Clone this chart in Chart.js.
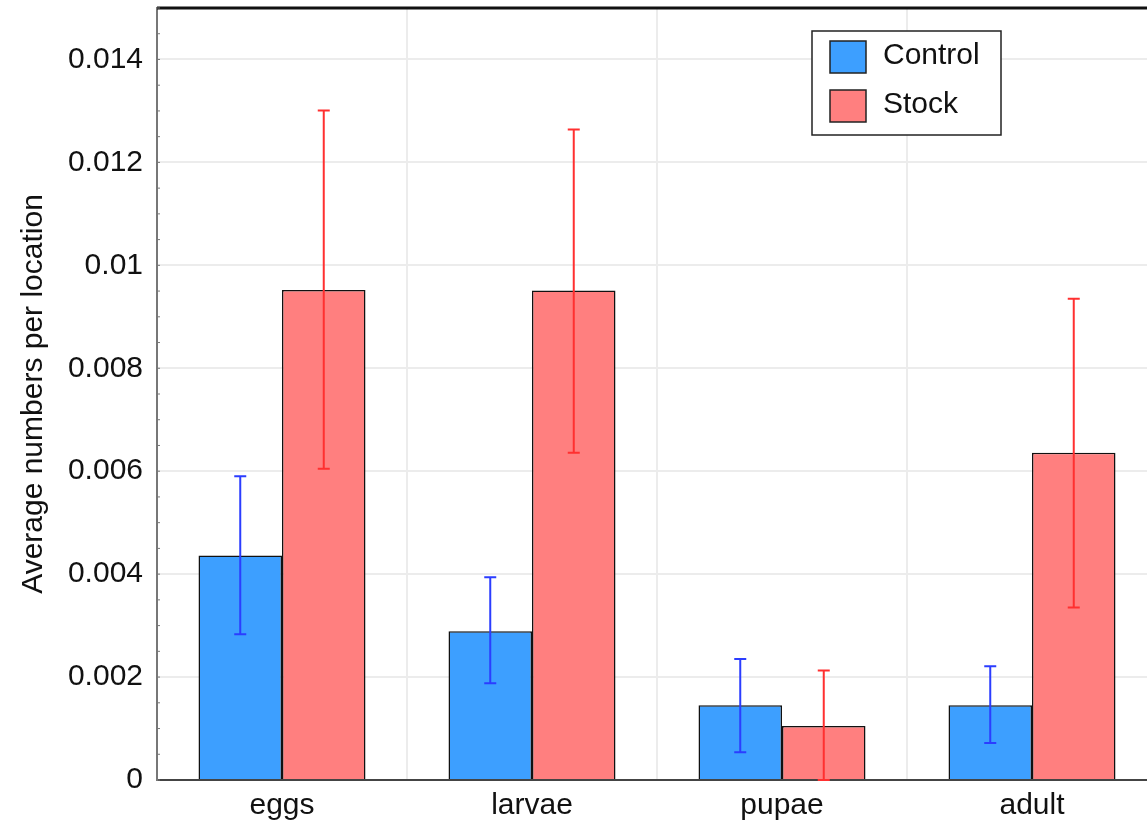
<!DOCTYPE html>
<html>
<head>
<meta charset="utf-8">
<script src="https://cdn.jsdelivr.net/npm/chart.js@4/dist/chart.umd.min.js"></script>
<style>
  html, body { margin: 0; padding: 0; background: #fff; overflow: hidden; width: 1147px; height: 828px; }
  #wrap { position: absolute; left: 0; top: 0; width: 1160px; height: 828px; }
</style>
</head>
<body>
<div id="wrap"><canvas id="c"></canvas></div>
<script>
const categories = ['eggs', 'larvae', 'pupae', 'adult'];
const seriesNames = ['Control', 'Stock'];
const controlValues = [0.00436, 0.00289, 0.00145, 0.00145];
const controlLow = [0.00283, 0.00188, 0.00054, 0.00072];
const controlHigh = [0.00590, 0.00394, 0.00235, 0.00221];
const stockValues = [0.00952, 0.00951, 0.00105, 0.00636];
const stockLow = [0.00605, 0.00636, 0.0, 0.00335];
const stockHigh = [0.01301, 0.01264, 0.00213, 0.00935];
const yTickValues = [0, 0.002, 0.004, 0.006, 0.008, 0.01, 0.012, 0.014];
const yTitle = 'Average numbers per location';

const FONT = '"Liberation Sans", Arial, sans-serif';
const errorColors = ['#2b3dff', '#ff3030'];
const errLow = [controlLow, stockLow];
const errHigh = [controlHigh, stockHigh];

const errorBars = {
  id: 'errorBars',
  afterDatasetsDraw(chart) {
    const ctx = chart.ctx;
    const y = chart.scales.y;
    chart.data.datasets.forEach((ds, di) => {
      const meta = chart.getDatasetMeta(di);
      meta.data.forEach((bar, i) => {
        const x = bar.x;
        const yl = y.getPixelForValue(errLow[di][i]);
        const yh = y.getPixelForValue(errHigh[di][i]);
        ctx.save();
        ctx.strokeStyle = errorColors[di];
        ctx.lineWidth = 2;
        ctx.beginPath();
        ctx.moveTo(x, yl); ctx.lineTo(x, yh);
        ctx.moveTo(x - 6, yl); ctx.lineTo(x + 6, yl);
        ctx.moveTo(x - 6, yh); ctx.lineTo(x + 6, yh);
        ctx.stroke();
        ctx.restore();
      });
    });
  }
};

const frame = {
  id: 'frame',
  afterDraw(chart) {
    const {ctx, chartArea: a} = chart;
    ctx.save();
    ctx.strokeStyle = '#111';
    ctx.lineWidth = 3;
    ctx.beginPath();
    ctx.moveTo(a.left, a.top); ctx.lineTo(a.right, a.top);
    ctx.stroke();
    ctx.strokeStyle = '#777';
    ctx.lineWidth = 1;
    const y = chart.scales.y;
    for (let k = 0; k <= 30; k++) {
      const py = y.getPixelForValue(k * 0.0005);
      ctx.beginPath(); ctx.moveTo(a.left, py); ctx.lineTo(a.left + 3, py); ctx.stroke();
    }
    const bx = 812, by = 31, bw = 189, bh = 104;
    ctx.fillStyle = '#fff';
    ctx.fillRect(bx, by, bw, bh);
    ctx.strokeStyle = '#222';
    ctx.lineWidth = 1.5;
    ctx.strokeRect(bx, by, bw, bh);
    chart.data.datasets.forEach((ds, i) => {
      const sy = 41 + i * 49;
      ctx.fillStyle = ds.backgroundColor;
      ctx.fillRect(830, sy, 36, 32);
      ctx.strokeStyle = '#222';
      ctx.lineWidth = 1.5;
      ctx.strokeRect(830, sy, 36, 32);
      ctx.fillStyle = '#111';
      ctx.font = '30px ' + FONT;
      ctx.textBaseline = 'middle';
      ctx.textAlign = 'left';
      ctx.fillText(ds.label, 883, sy + 15);
    });
    ctx.restore();
  }
};

new Chart(document.getElementById('c'), {
  type: 'bar',
  data: {
    labels: categories,
    datasets: [
      { label: seriesNames[0], data: controlValues, backgroundColor: '#3d9fff', borderColor: '#111', borderWidth: 1.5 },
      { label: seriesNames[1], data: stockValues, backgroundColor: '#ff7f7f', borderColor: '#111', borderWidth: 1.5 }
    ]
  },
  options: {
    responsive: true,
    maintainAspectRatio: false,
    animation: false,
    layout: { padding: { top: 8, right: 3, bottom: 0, left: 0 } },
    plugins: { legend: { display: false }, tooltip: { enabled: false } },
    datasets: { bar: { categoryPercentage: 0.668, barPercentage: 1.0 } },
    scales: {
      x: {
        grid: { display: true, offset: true, color: '#ececec', lineWidth: 2, drawTicks: false },
        border: { display: true, color: '#444', width: 2 },
        ticks: { color: '#111', font: { family: FONT, size: 30 }, padding: 8 },
        afterFit(scale) { scale.height = 48; scale.paddingLeft = 0; scale.paddingRight = 0; }
      },
      y: {
        min: 0,
        max: 0.015,
        afterBuildTicks(scale) { scale.ticks = yTickValues.map(v => ({ value: v })); },
        grid: { color: '#ececec', lineWidth: 2, drawTicks: false },
        border: { display: true, color: '#777', width: 2 },
        ticks: {
          color: '#111',
          font: { family: FONT, size: 30 },
          padding: 14,
          callback: (v) => String(parseFloat(Number(v).toFixed(4)))
        },
        title: {
          display: true,
          text: yTitle,
          color: '#111',
          font: { family: FONT, size: 30 },
          padding: { top: 16, bottom: 0 }
        },
        afterFit(scale) { scale.width = 157; scale.paddingTop = 0; scale.paddingBottom = 0; }
      }
    }
  },
  plugins: [errorBars, frame]
});
</script>
</body>
</html>
